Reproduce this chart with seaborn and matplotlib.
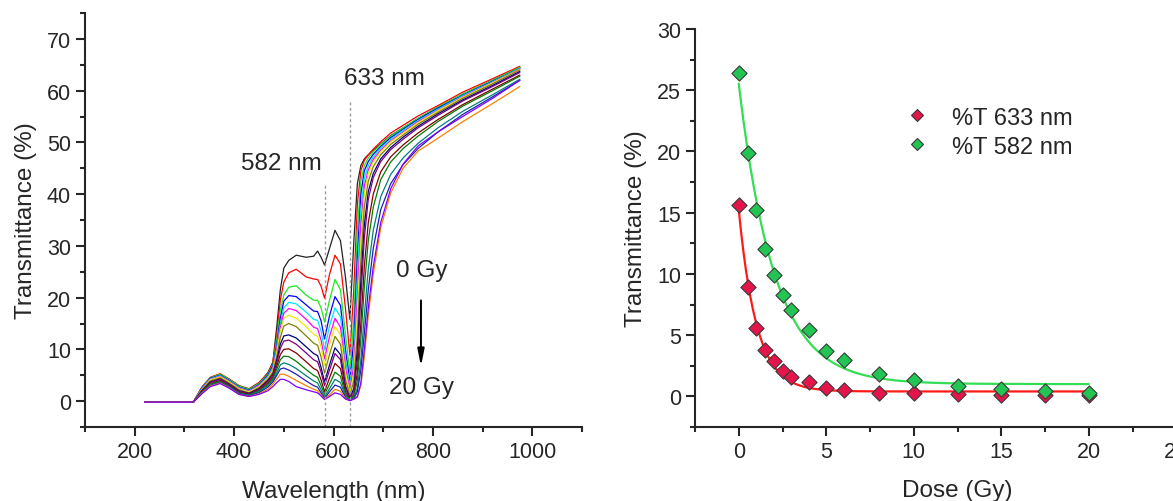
import numpy as np
import pandas as pd
import matplotlib
matplotlib.use("Agg")
import matplotlib.pyplot as plt
from matplotlib.ticker import MultipleLocator
from matplotlib.lines import Line2D
import seaborn as sns

# ---- left panel: transmittance spectra, one per dose ----
wavelength_nm = [220, 318, 335, 352, 372, 390, 410, 430, 450,
                 468, 478, 486, 493, 500, 510, 525, 545, 560, 568, 575, 582,
                 592, 603, 614, 624, 633,
                 641, 648, 655, 662, 670, 680, 695, 715, 740, 770, 810, 860, 920, 975]

T_0 = [-0.2, -0.2, 2.6, 4.5, 5.2, 4.2, 2.9, 2.3, 3.5, 5.5, 7.5, 14.5, 21.5, 25.7, 27.2, 28.2, 27.8, 28.0, 29.0, 27.8, 26.3,
       29.5, 33.0, 31.0, 24.0, 15.8, 31.0, 42.0, 45.5, 46.8, 47.6, 48.5, 49.7, 51.3, 52.8, 54.6, 56.8, 59.3, 62.0, 64.5]
T_0p5 = [-0.2, -0.2, 2.7, 4.6, 5.3, 4.3, 3.0, 2.4, 3.6, 5.3, 7.5, 13.0, 19.5, 23.0, 24.8, 25.5, 24.0, 23.6, 23.5, 22.2, 19.9,
         24.5, 28.2, 26.5, 18.0, 8.9, 22.0, 38.0, 44.5, 46.5, 47.6, 48.7, 50.1, 51.8, 53.3, 55.1, 57.1, 59.7, 62.3, 64.7]
T_1 = [-0.2, -0.2, 2.6, 4.5, 5.2, 4.2, 2.9, 2.3, 3.4, 5.2, 7.0, 12.0, 17.5, 20.5, 22.0, 22.3, 20.5, 19.5, 19.5, 18.0, 15.3,
       19.5, 23.5, 21.5, 13.0, 5.6, 16.0, 33.0, 42.5, 45.5, 47.0, 48.2, 49.6, 51.2, 52.8, 54.6, 56.8, 59.3, 62.0, 64.5]
T_1p5 = [-0.2, -0.2, 2.5, 4.4, 5.0, 4.0, 2.7, 2.1, 3.2, 5.0, 6.8, 11.0, 16.0, 19.3, 20.4, 20.2, 18.6, 17.4, 17.3, 15.5, 12.0,
         16.5, 20.2, 18.5, 10.0, 3.8, 12.0, 28.0, 40.0, 44.5, 46.3, 47.7, 49.2, 50.9, 52.5, 54.4, 56.6, 59.1, 61.8, 64.3]
T_2 = [-0.2, -0.2, 2.4, 4.3, 4.9, 3.9, 2.6, 2.0, 3.1, 4.8, 6.5, 10.5, 15.0, 18.0, 19.1, 18.8, 17.2, 15.8, 15.6, 13.5, 9.9,
       14.5, 18.0, 16.3, 8.0, 2.8, 9.0, 24.0, 37.0, 43.0, 45.5, 47.2, 48.9, 50.6, 52.3, 54.2, 56.4, 59.0, 61.7, 64.3]
T_2p5 = [-0.2, -0.2, 2.3, 4.2, 4.8, 3.8, 2.5, 1.9, 3.0, 4.6, 6.2, 10.0, 14.2, 17.0, 17.9, 17.5, 15.8, 14.3, 14.0, 11.8, 8.2,
         12.5, 16.0, 14.3, 6.5, 2.1, 7.0, 20.0, 34.0, 41.5, 44.7, 46.7, 48.5, 50.3, 52.0, 54.0, 56.2, 58.8, 61.6, 64.2]
T_3 = [-0.2, -0.2, 2.2, 4.1, 4.7, 3.7, 2.4, 1.8, 2.8, 4.5, 6.0, 9.5, 13.5, 16.0, 16.6, 16.0, 14.4, 12.9, 12.5, 10.5, 7.0,
       11.0, 14.4, 12.8, 5.5, 1.6, 5.5, 17.0, 31.0, 40.0, 44.0, 46.2, 48.2, 50.1, 51.8, 53.8, 56.1, 58.7, 61.5, 64.1]
T_4 = [-0.2, -0.2, 2.1, 3.9, 4.5, 3.5, 2.2, 1.6, 2.6, 4.2, 5.6, 8.7, 12.3, 14.5, 15.0, 14.4, 12.6, 11.2, 10.8, 8.5, 5.4,
       9.0, 12.5, 11.0, 4.2, 1.1, 4.0, 13.0, 27.0, 37.5, 42.5, 45.3, 47.6, 49.6, 51.4, 53.5, 55.8, 58.5, 61.3, 64.0]
T_5 = [-0.2, -0.2, 2.0, 3.7, 4.3, 3.3, 2.0, 1.5, 2.4, 4.0, 5.2, 8.0, 11.0, 12.6, 12.8, 12.2, 10.5, 9.2, 8.8, 6.5, 3.7,
       7.0, 10.3, 9.0, 3.0, 0.6, 2.5, 10.0, 23.0, 34.0, 40.5, 44.0, 46.8, 49.0, 51.0, 53.1, 55.5, 58.2, 61.0, 63.7]
T_6 = [-0.2, -0.2, 1.9, 3.6, 4.2, 3.2, 1.9, 1.4, 2.3, 3.8, 5.0, 7.5, 10.2, 11.6, 11.8, 11.0, 9.3, 8.0, 7.6, 5.6, 3.0,
       6.0, 9.2, 8.0, 2.5, 0.5, 2.0, 8.0, 20.0, 31.5, 39.0, 43.2, 46.3, 48.6, 50.6, 52.8, 55.2, 58.0, 60.8, 63.5]
T_8 = [-0.2, -0.2, 1.8, 3.4, 4.0, 3.0, 1.7, 1.3, 2.1, 3.5, 4.6, 6.8, 9.0, 10.0, 10.1, 9.3, 7.6, 6.3, 5.9, 4.1, 1.8,
       4.5, 7.3, 6.3, 1.8, 0.3, 1.3, 5.5, 15.0, 26.0, 34.5, 40.0, 44.3, 47.2, 49.5, 51.8, 54.4, 57.3, 60.3, 63.0]
T_10 = [-0.2, -0.2, 1.7, 3.3, 3.8, 2.9, 1.6, 1.2, 2.0, 3.2, 4.3, 6.2, 8.0, 8.7, 8.6, 7.7, 6.1, 5.0, 4.6, 3.0, 1.3,
        3.3, 5.6, 4.8, 1.3, 0.3, 1.0, 4.0, 12.0, 22.0, 31.0, 37.5, 42.8, 46.2, 48.8, 51.2, 54.0, 57.0, 60.0, 62.8]
T_12p5 = [-0.2, -0.2, 1.6, 3.1, 3.7, 2.8, 1.5, 1.1, 1.8, 3.0, 4.0, 5.5, 7.0, 7.4, 7.1, 6.3, 4.9, 3.9, 3.5, 2.2, 0.8,
          2.4, 4.2, 3.6, 1.0, 0.15, 0.7, 2.5, 8.0, 16.5, 25.5, 33.0, 39.5, 43.8, 47.0, 49.8, 52.8, 56.0, 59.2, 62.2]
T_15 = [-0.2, -0.2, 1.5, 3.0, 3.6, 2.7, 1.4, 1.0, 1.6, 2.7, 3.7, 5.0, 6.2, 6.4, 6.0, 5.2, 3.9, 3.0, 2.7, 1.6, 0.5,
        1.8, 3.1, 2.7, 0.7, 0.1, 0.5, 1.8, 6.0, 13.0, 21.5, 29.5, 37.0, 42.0, 45.7, 48.8, 52.0, 55.4, 58.8, 62.0]
T_17p5 = [-0.2, -0.2, 1.5, 2.9, 3.5, 2.6, 1.3, 0.9, 1.4, 2.3, 3.3, 4.3, 5.2, 5.2, 4.8, 4.0, 3.0, 2.3, 2.0, 1.2, 0.4,
          1.2, 2.3, 1.9, 0.5, 0.1, 0.4, 0.9, 3.0, 8.5, 16.5, 24.5, 33.5, 40.2, 45.0, 48.3, 50.8, 54.0, 57.5, 60.8]
T_20 = [-0.2, -0.2, 1.4, 2.8, 3.4, 2.5, 1.3, 0.9, 1.3, 2.0, 2.8, 3.6, 4.2, 4.2, 3.8, 2.8, 2.2, 1.8, 1.6, 1.0, 0.3,
        0.9, 1.6, 1.3, 0.4, 0.1, 0.4, 0.8, 3.5, 10.0, 18.0, 26.0, 34.5, 41.0, 45.8, 49.3, 52.0, 55.0, 58.5, 62.0]

dose_gy = [0, 0.5, 1, 1.5, 2, 2.5, 3, 4, 5, 6, 8, 10, 12.5, 15, 17.5, 20]
spectra = [T_0, T_0p5, T_1, T_1p5, T_2, T_2p5, T_3, T_4, T_5, T_6, T_8, T_10, T_12p5, T_15, T_17p5, T_20]

# Origin-like colour increment
line_colors = ['#222222', '#FF0000', '#1EE81E', '#0000FF', '#00E5FF', '#FF00FF', '#EEEE00', '#808000',
               '#000080', '#800080', '#800000', '#008000', '#008080', '#2020B0', '#FF8000', '#8000FF']

# ---- right panel: transmittance at two wavelengths vs dose ----
t_633 = [15.6, 8.9, 5.6, 3.8, 2.9, 2.1, 1.6, 1.15, 0.65, 0.5, 0.3, 0.3, 0.16, 0.15, 0.1, 0.1]
t_582 = [26.4, 19.9, 15.25, 12.0, 9.9, 8.25, 7.05, 5.4, 3.7, 3.0, 1.85, 1.35, 0.85, 0.6, 0.42, 0.3]

rows = []
for d, vals in zip(dose_gy, spectra):
    for w, t in zip(wavelength_nm, vals):
        rows.append({'wl': w, 'T': t, 'dose': f'{d} Gy'})
spec_df = pd.DataFrame(rows)
dose_labels = [f'{d} Gy' for d in dose_gy]

pts = pd.DataFrame({'dose': dose_gy, 't633': t_633, 't582': t_582})


def exp_fit(x, y):
    # y = y0 + A*exp(-x/tau), tau by grid search, y0/A by least squares
    x = np.asarray(x, float)
    y = np.asarray(y, float)
    best = None
    for tau in np.linspace(0.2, 8, 1600):
        M = np.column_stack([np.ones_like(x), np.exp(-x / tau)])
        coef = np.linalg.lstsq(M, y, rcond=None)[0]
        sse = ((M @ coef - y) ** 2).sum()
        if best is None or sse < best[0]:
            best = (sse, coef[0], coef[1], tau)
    return best[1:]


sns.set_style('ticks')
plt.rcParams['font.family'] = ['Liberation Sans', 'DejaVu Sans']
plt.rcParams['axes.linewidth'] = 1.5

fig = plt.figure(figsize=(11.73, 5.02), dpi=100)
ax1 = fig.add_axes([85 / 1173, 1 - 428 / 502, 497 / 1173, 414 / 502])
ax2 = fig.add_axes([695 / 1173, 1 - 428 / 502, 525 / 1173, 398 / 502])

sns.lineplot(data=spec_df, x='wl', y='T', hue='dose', hue_order=dose_labels,
             palette=dict(zip(dose_labels, line_colors)), estimator=None, sort=False,
             legend=False, lw=0.9, ax=ax1)

ax1.vlines(582, -5, 42, colors='#999999', linestyles=(0, (2, 2)), lw=1)
ax1.vlines(633, -5, 58, colors='#999999', linestyles=(0, (2, 2)), lw=1)
ax1.text(703, 62.4, '633 nm', fontsize=17.5, ha='center', va='center')
ax1.text(495, 46.0, '582 nm', fontsize=17.5, ha='center', va='center')
ax1.text(778, 25.4, '0 Gy', fontsize=17.5, ha='center', va='center')
ax1.text(778, 2.7, '20 Gy', fontsize=17.5, ha='center', va='center')
ax1.annotate('', xy=(776, 6.2), xytext=(776, 20.0),
             arrowprops=dict(arrowstyle='-|>,head_width=0.2,head_length=1.0', color='k', lw=1.4))

ax1.set_xlim(100, 1100)
ax1.set_ylim(-5, 75)
ax1.set_xticks([200, 400, 600, 800, 1000])
ax1.xaxis.set_minor_locator(MultipleLocator(100))
ax1.set_yticks(range(0, 71, 10))
ax1.yaxis.set_minor_locator(MultipleLocator(5))
ax1.set_xlabel('Wavelength (nm)', fontsize=17.5, labelpad=13)
ax1.set_ylabel('Transmittance (%)', fontsize=17.5, labelpad=7)

# right panel
xfit = np.linspace(0, 20, 300)
for col, line_c in [('t633', '#FF1A1A'), ('t582', '#33DD55')]:
    y0, A, tau = exp_fit(pts['dose'], pts[col])
    ax2.plot(xfit, y0 + A * np.exp(-xfit / tau), color=line_c, lw=1.6, zorder=2)

sns.scatterplot(data=pts, x='dose', y='t633', marker='D', s=60, color='#E3154A',
                edgecolor='#3a3a3a', linewidth=0.8, zorder=3, ax=ax2)
sns.scatterplot(data=pts, x='dose', y='t582', marker='D', s=60, color='#22C453',
                edgecolor='#3a3a3a', linewidth=0.8, zorder=3, ax=ax2)

handles = [Line2D([], [], ls='none', marker='D', ms=6, mfc='#E3154A', mec='#3a3a3a', mew=0.8),
           Line2D([], [], ls='none', marker='D', ms=6, mfc='#22C453', mec='#3a3a3a', mew=0.8)]
ax2.legend(handles, ['%T 633 nm', '%T 582 nm'], loc='upper left', bbox_to_anchor=(0.40, 0.805),
           frameon=False, fontsize=17, handlelength=1.0, handletextpad=1.0,
           labelspacing=0.3, borderpad=0, borderaxespad=0)

ax2.set_xlim(-2.5, 27.5)
ax2.set_ylim(-2.5, 30)
ax2.set_xticks([0, 5, 10, 15, 20, 25])
ax2.xaxis.set_minor_locator(MultipleLocator(2.5))
ax2.set_yticks(range(0, 31, 5))
ax2.yaxis.set_minor_locator(MultipleLocator(2.5))
ax2.set_xlabel('Dose (Gy)', fontsize=17.5, labelpad=12)
ax2.set_ylabel('Transmittance (%)', fontsize=17.5, labelpad=7)

for ax in (ax1, ax2):
    sns.despine(ax=ax)
    ax.tick_params(which='major', direction='out', length=6.5, width=1.5, labelsize=15.5, pad=3.5)
    ax.tick_params(which='minor', direction='out', length=3.5, width=1.5)

fig.savefig('out.png', dpi=100)
